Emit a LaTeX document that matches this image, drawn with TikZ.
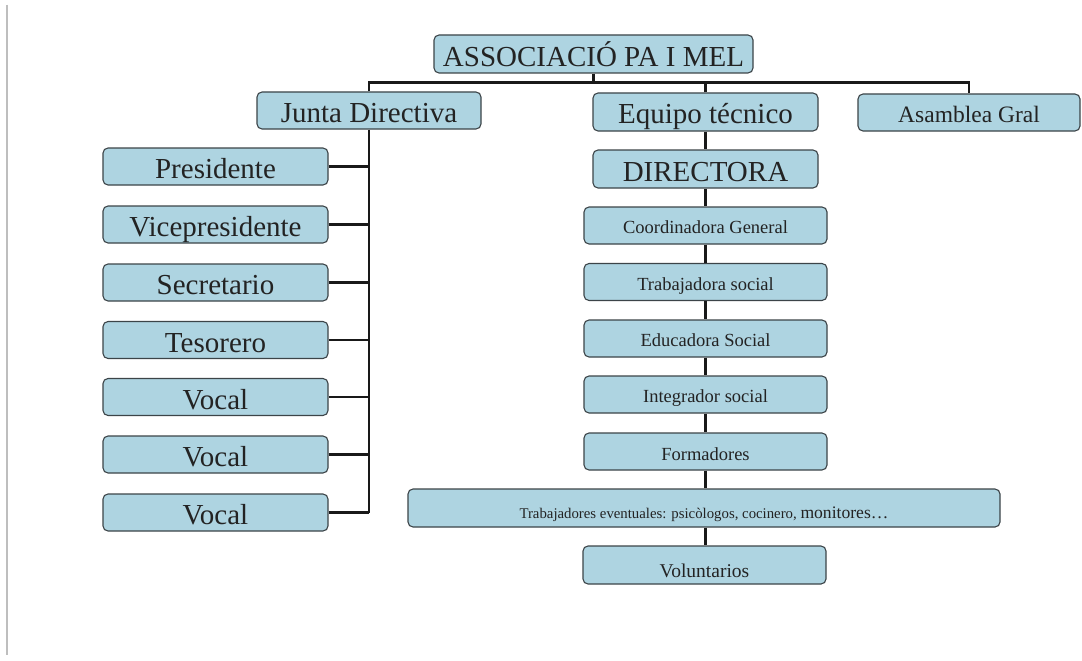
\documentclass[tikz,border=0pt]{standalone}
\usepackage{fontspec}
\setmainfont{Liberation Serif}
\definecolor{boxblue}{RGB}{174,212,225}
\definecolor{boxedge}{RGB}{60,68,72}
\definecolor{linecol}{RGB}{25,25,25}
\definecolor{txtcol}{RGB}{35,35,35}
\definecolor{edgegray}{RGB}{190,190,190}
\tikzset{
  orgbox/.style={rectangle, rounded corners=5pt, draw=boxedge, line width=1.1pt,
    fill=boxblue, inner sep=0pt, text=txtcol, text depth=0pt},
  bigbox/.style={orgbox, font=\fontsize{29}{30}\selectfont, text height=24pt},
  smallbox/.style={orgbox, font=\fontsize{18.5}{20}\selectfont, text height=16pt},
  leftbox/.style={bigbox, minimum width=225pt, minimum height=37pt},
  midbox/.style={smallbox, minimum width=243pt, minimum height=37pt},
  conn/.style={draw=linecol, line width=2.4pt}
}
\begin{document}
\begin{tikzpicture}[x=1pt,y=-1pt]
\useasboundingbox (0,0) rectangle (1082,661);
\fill[white] (0,0) rectangle (1082,661);
\draw[edgegray, line width=2pt] (7,5) -- (7,655);

% top level
\node[bigbox, minimum width=319pt, minimum height=38pt, text height=25pt] (title) at (593.5,54) {ASSOCIACIÓ PA I MEL};
\coordinate (hb) at (0,82.5);

% second level
\node[bigbox, minimum width=224pt, minimum height=37pt] (junta) at (369,110.5) {Junta Directiva};
\node[bigbox, minimum width=225pt, minimum height=38pt] (equipo) at (705.5,112) {Equipo técnico};
\node[orgbox, font=\fontsize{23.5}{25}\selectfont, text height=20pt, minimum width=222pt, minimum height=37pt] (asamblea) at (969,112.5) {Asamblea Gral};

% left column
\node[leftbox] (pres) at (215.5,166.5) {Presidente};
\node[leftbox] (vice) at (215.5,224.5) {Vicepresidente};
\node[leftbox] (secr) at (215.5,282.5) {Secretario};
\node[leftbox] (teso) at (215.5,340) {Tesorero};
\node[leftbox] (voc1) at (215.5,397) {Vocal};
\node[leftbox] (voc2) at (215.5,454.5) {Vocal};
\node[leftbox] (voc3) at (215.5,512.5) {Vocal};

% centre column
\node[bigbox, minimum width=225pt, minimum height=38pt, text height=25pt] (dir) at (705.5,169) {DIRECTORA};
\node[midbox] (coord) at (705.5,225.5) {Coordinadora General};
\node[midbox] (trab) at (705.5,282) {Trabajadora social};
\node[midbox] (educ) at (705.5,338.5) {Educadora Social};
\node[midbox] (integ) at (705.5,394.5) {Integrador social};
\node[midbox, text height=17pt] (form) at (705.5,451.5) {Formadores};
\node[orgbox, minimum width=592pt, minimum height=38pt, text height=20pt] (event) at (704,508)
  {\fontsize{14.8}{16}\selectfont Trabajadores eventuales: psicòlogos, cocinero, \fontsize{17.6}{19}\selectfont monitores…};
\node[orgbox, font=\fontsize{19.5}{21}\selectfont, text height=24pt, minimum width=243pt, minimum height=38pt] (volu) at (704.5,565) {Voluntarios};

% connectors: top bus
\draw[conn] (title.south) -- (title.south |- hb);
\draw[conn] (junta.north) -- (junta.north |- hb) -- (asamblea.north |- hb) -- (asamblea.north);
\draw[conn] (equipo.north) -- (equipo.north |- hb);

% left spine
\draw[conn] (junta.south) -- (junta.south |- voc3.east);
\foreach \n in {pres,vice,secr,teso,voc1,voc2,voc3}
  \draw[conn] (\n.east) -- (\n.east -| junta.south);

% centre chain
\draw[conn] (equipo.south) -- (equipo.south |- dir.north);
\draw[conn] (dir.south) -- (dir.south |- coord.north);
\draw[conn] (coord.south) -- (coord.south |- trab.north);
\draw[conn] (trab.south) -- (trab.south |- educ.north);
\draw[conn] (educ.south) -- (educ.south |- integ.north);
\draw[conn] (integ.south) -- (integ.south |- form.north);
\draw[conn] (form.south) -- (form.south |- event.north);
\draw[conn] (event.south -| form.south) -- (form.south |- volu.north);
\end{tikzpicture}
\end{document}
